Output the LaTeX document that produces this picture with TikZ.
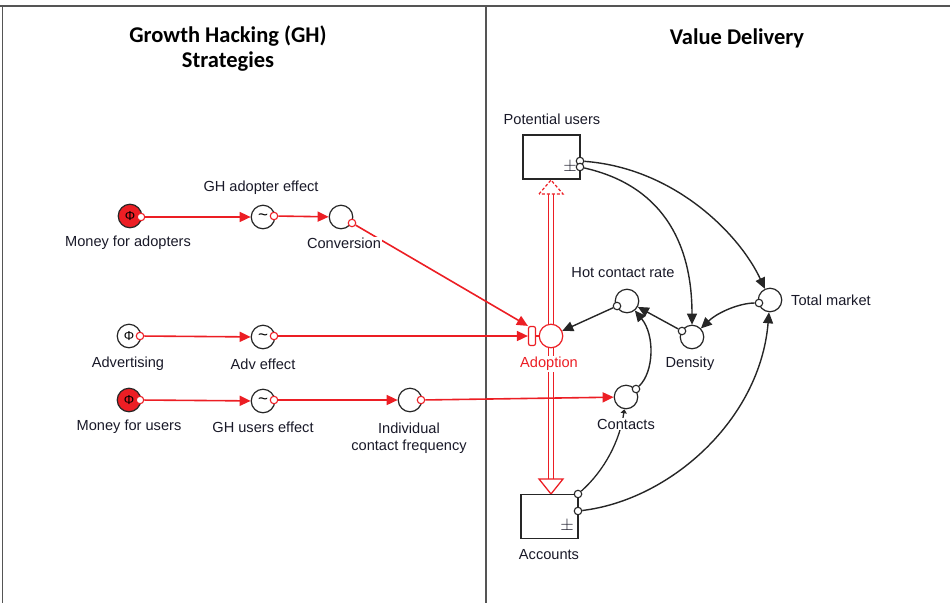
\documentclass[tikz,border=0pt]{standalone}
\usepackage{fontspec}
\setmainfont{Liberation Sans}
\newfontfamily\titlefont{Carlito}
\usetikzlibrary{arrows.meta}
\definecolor{vred}{RGB}{236,30,36}
\definecolor{framec}{RGB}{85,85,85}
\definecolor{txt}{RGB}{25,25,40}
\begin{document}
\begin{tikzpicture}[x=1pt,y=-1pt,
  lbl/.style={font=\fontsize{14.6}{17}\selectfont, text=txt, inner sep=1pt, align=center},
  redlbl/.style={lbl, text=vred},
  ttl/.style={font=\titlefont\bfseries\fontsize{22.5}{25}\selectfont, text=black, align=center},
  aux/.style={circle, draw=black!85, line width=1.2pt, minimum size=23.5pt, inner sep=0pt, fill=white},
  effect/.style={aux, font=\fontsize{17}{17}\selectfont},
  phinode/.style={aux, font=\fontsize{13}{13}\selectfont},
  port/.style={circle, draw=black!85, fill=white, minimum size=7.5pt, inner sep=0pt, line width=1.1pt},
  redport/.style={port, draw=vred},
  stock/.style={rectangle, draw=black!85, line width=1.2pt, fill=white, minimum width=57pt, minimum height=44pt, inner sep=0pt},
  redarr/.style={draw=vred, line width=1.6pt, -{Triangle[length=11pt,width=10pt]}},
  blkarr/.style={draw=black!85, line width=1.4pt, -{Triangle[length=11pt,width=10pt]}},
  smallarr/.style={draw=black!85, line width=1.3pt, -{Triangle[length=4pt,width=6pt]}},
]
\useasboundingbox (0,0) rectangle (950,603);
% frame
\draw[framec, line width=2pt] (0,6) -- (950,6);
\draw[framec, line width=1.2pt] (2.5,6) -- (2.5,603);
\draw[framec, line width=1.2pt] (486,6) -- (486,603);

% titles
\node[ttl] (t1) at (228,49) {Growth Hacking (GH)\\Strategies};
\node[ttl] (t2) at (737,38) {Value Delivery};

% flow (double pipe)
\coordinate (flowtop) at (551,194);
\coordinate (flowbot) at (551,479);
\draw[vred, line width=1.3pt, double=white, double distance=3.6pt] (flowtop) -- (flowbot);
\draw[vred, line width=1.2pt, dash pattern=on 3pt off 2pt, fill=white] (539,194) -- (551,180) -- (563,194) -- cycle;
\draw[vred, line width=1.3pt, fill=white, line join=miter] (539,479) -- (551,494) -- (563,479) -- cycle;

% stocks
\node[stock] (pu) at (551.5,157) {};
\node[lbl] (pulbl) at (552,119) {Potential users};
\node[lbl, font=\fontsize{16}{16}\selectfont] (pupm) at (570,167) {$\pm$};
\node[stock] (acc) at (549.5,516.5) {};
\node[lbl] (acclbl) at (549,555) {Accounts};
\node[lbl, font=\fontsize{16}{16}\selectfont] (accpm) at (567,526) {$\pm$};
\node[port] (pu1) at (580,161) {};
\node[port] (pu2) at (580,167) {};
\node[port] (acc1) at (578,494) {};
\node[port] (acc2) at (578,511) {};

% valve
\node[aux, draw=vred] (valve) at (551,336) {};
\node[rectangle, rounded corners=2pt, draw=vred, fill=white, line width=1.2pt, minimum width=7pt, minimum height=19pt, inner sep=0pt] (vrect) at (532,336) {};
\draw[vred, line width=1.2pt] (vrect) -- (valve);
\node[redlbl, fill=white] (adlbl) at (549,364) {Adoption};

% left-side nodes
\node[phinode, fill=vred] (mfa) at (130,216) {Φ};
\node[redport] (mfap) at (141,217) {};
\node[lbl] (mfalbl) at (128,243) {Money for adopters};
\node[effect] (ghae) at (263,217) {\textasciitilde};
\node[redport] (ghaep) at (274,216) {};
\node[lbl] (ghaelbl) at (261,188) {GH adopter effect};
\node[aux] (conv) at (341,217) {};
\node[redport] (convp) at (352,223) {};

\node[phinode] (adv) at (129,336) {Φ};
\node[redport] (advp) at (140,336) {};
\node[lbl] (advlbl) at (128,364) {Advertising};
\node[effect] (adve) at (263,337) {\textasciitilde};
\node[redport] (advep) at (274,336) {};
\node[lbl] (advelbl) at (263,364) {Adv effect};

\node[phinode, fill=vred] (mfu) at (129,400) {Φ};
\node[redport] (mfup) at (140,400) {};
\node[lbl] (mfulbl) at (129,427) {Money for users};
\node[effect] (ghue) at (263,401) {\textasciitilde};
\node[redport] (ghuep) at (274,400) {};
\node[lbl] (ghuelbl) at (263,427) {GH users effect};
\node[aux] (indiv) at (410,400) {};
\node[redport] (indivp) at (421,400) {};
\node[lbl] (indivlbl) at (409,438) {Individual\\contact frequency};

% right-side auxiliaries
\node[aux] (hcr) at (627,301) {};
\node[port] (hcrp) at (617,306) {};
\node[lbl] (hcrlbl) at (623,273) {Hot contact rate};
\node[aux] (dens) at (692,337) {};
\node[port] (densp) at (682,331) {};
\node[lbl] (denslbl) at (690,364) {Density};
\node[aux] (totm) at (770,300) {};
\node[port] (totmp) at (759,303) {};
\node[lbl, anchor=west] (totmlbl) at (790,300) {Total market};
\node[aux] (cont) at (626,397) {};
\node[port] (contp) at (636,389) {};

% red connectors
\draw[redarr] (mfap) -- (ghae);
\draw[redarr] (ghaep) -- (conv);
\draw[redarr] (convp) -- (vrect.north west);
\draw[redarr] (advp) -- (adve);
\draw[redarr] (advep) -- (vrect.west);
\draw[redarr] (mfup) -- (ghue);
\draw[redarr] (ghuep) -- (indiv);
\draw[redarr] (indivp) -- (cont);
\node[lbl, fill=white] (convlbl) at (344,243) {Conversion};

% black connectors
\draw[blkarr] (pu1) .. controls (675,168) and (740,235) .. (totm);
\draw[blkarr] (pu2) .. controls (660,185) and (692,240) .. (dens);
\draw[blkarr] (totmp) .. controls (740,303) and (718,312) .. (dens);
\draw[blkarr] (densp) -- (hcr);
\draw[blkarr] (contp) .. controls (654,372) and (655,335) .. (hcr);
\draw[blkarr] (hcrp) -- (valve);
\draw[blkarr] (acc2) .. controls (670,500) and (760,420) .. (totm);
\draw[smallarr] (acc1) .. controls (605,470) and (620,440) .. (cont);

\node[lbl, fill=white, inner sep=1pt] (contlbl) at (626,424) {Contacts};
\end{tikzpicture}
\end{document}
